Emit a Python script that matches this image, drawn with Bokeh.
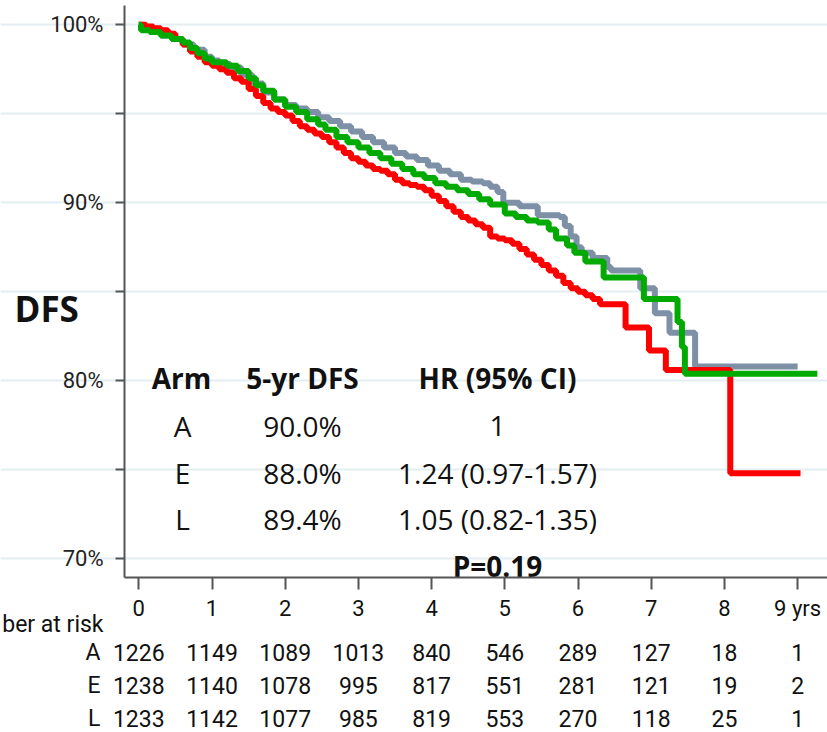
from bokeh.plotting import figure
from bokeh.models import FixedTicker, ColumnDataSource
from bokeh.core.properties import value
from bokeh.embed import file_html
from bokeh.resources import INLINE

# ---------------- data ----------------
years = [0, 1, 2, 3, 4, 5, 6, 7, 8, 9]
year_labels = ["0", "1", "2", "3", "4", "5", "6", "7", "8", "9 yrs"]
y_ticks = [70, 75, 80, 85, 90, 95, 100]
y_tick_labels = ["70%", "", "80%", "", "90%", "", "100%"]

# Arm A (grey)
t_A = [0.00, 0.05, 0.15, 0.30, 0.45, 0.60, 0.75, 0.90, 1.00, 1.10, 1.25, 1.40, 1.55, 1.70,
       1.85, 2.00, 2.15, 2.30, 2.45, 2.60, 2.75, 2.90, 3.05, 3.20, 3.35, 3.50, 3.65, 3.80,
       3.95, 4.10, 4.25, 4.40, 4.55, 4.70, 4.80, 4.90, 4.98, 5.20, 5.45, 5.75, 5.82, 5.90,
       5.98, 6.05, 6.20, 6.40, 6.45, 6.85, 7.05, 7.25, 7.60, 9.00]
s_A = [100.0, 99.8, 99.6, 99.4, 99.2, 98.9, 98.6, 98.2, 98.0, 97.8, 97.6, 97.2, 96.7, 96.2,
       95.8, 95.5, 95.3, 95.1, 94.8, 94.6, 94.3, 94.0, 93.7, 93.4, 93.1, 92.8, 92.6, 92.4,
       92.1, 91.8, 91.6, 91.3, 91.2, 91.1, 90.9, 90.6, 90.0, 89.8, 89.3, 89.2, 88.7, 88.1,
       87.5, 87.2, 86.9, 86.4, 86.2, 85.2, 83.8, 82.7, 80.8, 80.8]

# Arm E (red)
t_E = [0.00, 0.10, 0.20, 0.30, 0.40, 0.50, 0.60, 0.70, 0.80, 0.90, 1.00, 1.10, 1.20, 1.30,
       1.40, 1.50, 1.60, 1.70, 1.80, 1.90, 2.00, 2.10, 2.20, 2.30, 2.40, 2.50, 2.60, 2.70,
       2.80, 2.90, 3.00, 3.10, 3.20, 3.30, 3.40, 3.50, 3.60, 3.70, 3.80, 3.90, 4.00, 4.10,
       4.20, 4.30, 4.40, 4.50, 4.60, 4.70, 4.80, 4.90, 5.00, 5.10, 5.20, 5.30, 5.40, 5.50,
       5.60, 5.70, 5.80, 5.90, 6.00, 6.10, 6.20, 6.30, 6.65, 6.97, 7.20, 8.08, 9.04]
s_E = [100.0, 99.9, 99.8, 99.7, 99.5, 99.2, 98.9, 98.5, 98.2, 97.9, 97.7, 97.5, 97.3, 97.0,
       96.8, 96.4, 96.0, 95.6, 95.3, 95.1, 94.9, 94.6, 94.3, 94.1, 93.9, 93.7, 93.4, 93.1,
       92.8, 92.5, 92.3, 92.1, 91.9, 91.8, 91.6, 91.3, 91.1, 91.0, 90.9, 90.7, 90.4, 90.1,
       89.8, 89.5, 89.2, 89.0, 88.8, 88.6, 88.1, 88.0, 87.9, 87.7, 87.4, 87.1, 86.8, 86.5,
       86.2, 85.9, 85.5, 85.2, 85.0, 84.8, 84.6, 84.3, 83.0, 81.7, 80.6, 74.8, 74.8]

# Arm L (green)
t_L = [0.00, 0.03, 0.15, 0.30, 0.45, 0.60, 0.70, 0.80, 0.90, 1.00, 1.20, 1.35, 1.50, 1.60,
       1.70, 1.85, 2.00, 2.15, 2.30, 2.45, 2.55, 2.70, 2.85, 3.00, 3.15, 3.30, 3.45, 3.60,
       3.75, 3.90, 4.05, 4.20, 4.35, 4.50, 4.65, 4.80, 5.00, 5.15, 5.30, 5.45, 5.60, 5.70,
       5.85, 5.95, 6.10, 6.35, 6.90, 7.36, 7.42, 7.46, 9.27]
s_L = [100.0, 99.7, 99.6, 99.4, 99.2, 99.0, 98.7, 98.4, 98.1, 97.9, 97.7, 97.4, 97.0, 96.6,
       96.3, 95.8, 95.4, 95.1, 94.7, 94.4, 94.1, 93.7, 93.4, 93.1, 92.8, 92.5, 92.2, 91.9,
       91.6, 91.4, 91.1, 90.9, 90.7, 90.5, 90.2, 89.9, 89.4, 89.2, 89.0, 88.9, 88.5, 88.0,
       87.6, 87.2, 86.7, 85.8, 84.6, 83.3, 81.9, 80.4, 80.4]

arms = ["A", "E", "L"]
dfs_5yr = ["90.0%", "88.0%", "89.4%"]
hr_ci = ["1", "1.24 (0.97-1.57)", "1.05 (0.82-1.35)"]
p_value = "P=0.19"
risk_title = "ber at risk"

risk_A = [1226, 1149, 1089, 1013, 840, 546, 289, 127, 18, 1]
risk_E = [1238, 1140, 1078, 995, 817, 551, 281, 121, 19, 2]
risk_L = [1233, 1142, 1077, 985, 819, 553, 270, 118, 25, 1]

# ---------------- layout helpers (pixel -> data) ----------------
W, H = 827, 732
X0, PX_T = 138.3, 73.2     # pixel of year 0, pixels per year
Y100, PX_S = 24.3, 17.8    # pixel of 100%, pixels per percent


def tx(px):
    return (px - X0) / PX_T


def sy(py):
    return 100 - (py - Y100) / PX_S


NARROW = "Roboto"
SANS = "Open Sans"

p = figure(width=W, height=H, x_range=(tx(0), tx(W)), y_range=(sy(H), sy(0)),
           output_backend="svg", toolbar_location=None, min_border=0, title=None)
p.outline_line_color = None
p.background_fill_color = "white"
p.border_fill_color = "white"

# axes placed inside the frame at fixed positions
xa = p.xaxis[0]
xa.fixed_location = sy(577.3)
xa.bounds = (tx(124), tx(W))
xa.ticker = FixedTicker(ticks=years)
xa.major_label_overrides = dict(zip(years, year_labels))
xa.minor_tick_line_color = None
xa.major_tick_in = 0
xa.major_tick_out = 12
xa.major_label_standoff = 6
xa.axis_line_color = "#555555"
xa.axis_line_width = 2
xa.major_tick_line_color = "#555555"
xa.major_tick_line_width = 2
xa.major_label_text_font = NARROW
xa.major_label_text_font_size = "22px"
xa.major_label_text_color = "#111111"

ya = p.yaxis[0]
ya.fixed_location = tx(124)
ya.bounds = (sy(577.3), sy(5))
ya.ticker = FixedTicker(ticks=y_ticks)
ya.major_label_overrides = dict(zip(y_ticks, y_tick_labels))
ya.minor_tick_line_color = None
ya.major_tick_in = 0
ya.major_tick_out = 9
ya.major_label_standoff = 12
ya.axis_line_color = "#555555"
ya.axis_line_width = 2
ya.major_tick_line_color = "#555555"
ya.major_tick_line_width = 2
ya.major_label_text_font = NARROW
ya.major_label_text_font_size = "22px"
ya.major_label_text_color = "#222222"

p.xgrid.grid_line_color = None
yg = p.ygrid[0]
yg.ticker = FixedTicker(ticks=y_ticks)
yg.grid_line_color = "#e4eef2"
yg.grid_line_width = 2
yg.bounds = (tx(125), tx(W))

# curves
p.step(t_A, s_A, mode="after", line_width=6, line_color="#7d90a6")
p.step(t_E, s_E, mode="after", line_width=6, line_color="#ff0000")
p.step(t_L, s_L, mode="after", line_width=6, line_color="#00aa00")

# DFS label
p.text(x=[tx(14)], y=[sy(308)], text=["DFS"], text_font=value(SANS), text_font_style="bold",
       text_font_size="35px", text_color="#111111", text_align="left", text_baseline="alphabetic")

# summary table
hdr = ColumnDataSource(dict(x=[tx(181), tx(302), tx(497)], y=[sy(377)] * 3,
                            t=["Arm", "5-yr DFS", "HR (95% CI)"]))
p.text(x="x", y="y", text="t", source=hdr, text_font=value(SANS), text_font_style="bold",
       text_font_size="28px", text_color="#111111", text_align="center", text_baseline="alphabetic")
row_y = [sy(425), sy(472), sy(518)]
for col_x, col in ((tx(182), arms), (tx(302), dfs_5yr), (tx(497), hr_ci)):
    p.text(x=[col_x] * 3, y=row_y, text=col, text_font=value(SANS),
           text_font_size="28px", text_color="#111111", text_align="center", text_baseline="alphabetic")
p.text(x=[tx(497)], y=[sy(565)], text=[p_value], text_font=value(SANS), text_font_style="bold",
       text_font_size="28px", text_color="#111111", text_align="center", text_baseline="alphabetic")

# number at risk table
p.text(x=[tx(103)], y=[sy(624)], text=[risk_title], text_font=value(NARROW),
       text_font_size="23px", text_color="#111111", text_align="right", text_baseline="alphabetic")
for ry, lab, vals in ((sy(652), "A", risk_A), (sy(685), "E", risk_E), (sy(718), "L", risk_L)):
    p.text(x=[tx(100)], y=[ry], text=[lab], text_font=value(NARROW), text_font_size="23px",
           text_color="#111111", text_align="right", text_baseline="alphabetic")
    p.text(x=years, y=[ry] * len(years), text=[str(v) for v in vals], text_font=value(NARROW),
           text_font_size="23px", text_color="#111111", text_align="center", text_baseline="alphabetic")

open("out.html", "w").write(file_html(p, INLINE))
